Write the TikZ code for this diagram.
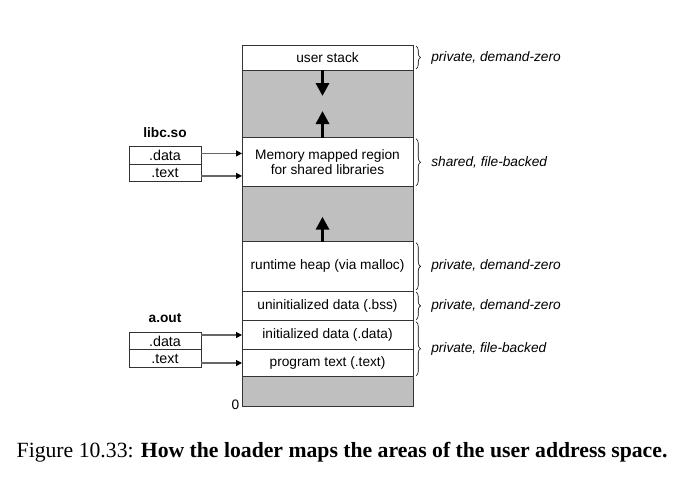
\documentclass[tikz,border=0pt]{standalone}
\usepackage{fontspec}
\setmainfont{Liberation Sans}
\newfontfamily\captionfont{Liberation Serif}
\newcommand\normalgr{\fontsize{13.7}{15.7}\selectfont}
\usetikzlibrary{arrows.meta,positioning,decorations.pathreplacing}

\begin{document}
\begin{tikzpicture}[x={(1pt,0)},y={(0,-1pt)},font=\normalgr,
  region/.style={draw=black!80,line width=.7pt,fill=white,minimum width=171pt,inner sep=0pt,outer sep=0pt,align=center},
  gap/.style={region,fill=black!25},
  libbox/.style={draw=black!80,line width=.7pt,minimum width=72pt,minimum height=17.5pt,inner sep=0pt,outer sep=0pt,font=\fontsize{14.3}{16}\selectfont},
  libarrow/.style={draw=black!60,line width=1.2pt,-{Triangle[length=6pt,width=6pt,color=black]}},
  growarrow/.style={line width=3.2pt,-{Triangle[length=13pt,width=13pt]}},
  klammer/.style={decorate,decoration={brace,amplitude=4.5pt},line width=.6pt}]
  \useasboundingbox (0,0) rectangle (695,480);
  % Adressraum
  \node[region,minimum height=25pt,anchor=north] (stack) at (327.5,45) {user stack};
  \node[gap,minimum height=67.7pt,below=0pt of stack] (gapA) {};
  \node[region,minimum height=49pt,below=0pt of gapA] (shared) {Memory mapped region\\for shared libraries};
  \node[gap,minimum height=55pt,below=0pt of shared] (gapB) {};
  \node[region,minimum height=49.3pt,below=0pt of gapB] (heap) {runtime heap (via malloc)};
  \node[region,minimum height=29.7pt,below=0pt of heap] (bss) {uninitialized data (.bss)};
  \node[region,minimum height=28.6pt,below=0pt of bss] (idata) {initialized data (.data)};
  \node[region,minimum height=27.4pt,below=0pt of idata] (ptext) {program text (.text)};
  \node[gap,minimum height=29.3pt,below=0pt of ptext] (gapC) {};
  \node[anchor=base east,inner sep=0pt,xshift=-2.5pt,yshift=-3pt] (null) at (gapC.south west) {0};
  % Wachstum
  \path ([xshift=-5pt]stack.south) ++(0,26) coordinate (stackend);
  \path ([xshift=-5pt]shared.north) ++(0,-26.7) coordinate (mmapend);
  \path ([xshift=-5pt]heap.north) ++(0,-25) coordinate (heapend);
  \draw[growarrow] ([xshift=-5pt]stack.south) -- (stackend);
  \draw[growarrow] ([xshift=-5pt]shared.north) -- (mmapend);
  \draw[growarrow] ([xshift=-5pt]heap.north) -- (heapend);
  % Bibliotheken
  \node[libbox] (ldata) at (165,155.4) {.data};
  \node[libbox,below=0pt of ldata] (ltext) {.text};
  \node[font=\normalgr\bfseries,inner sep=0pt,above=8.5pt of ldata] (libc) {libc.so};
  \node[libbox] (adata) at (165,341) {.data};
  \node[libbox,below=0pt of adata] (atext) {.text};
  \node[font=\normalgr\bfseries,inner sep=0pt,above=9pt of adata] (aout) {a.out};
  \draw[libarrow] ([yshift=2pt]ldata.east) -- ([yshift=2pt]ldata.east -| shared.west);
  \draw[libarrow] ([yshift=-3pt]ltext.east) -- ([yshift=-3pt]ltext.east -| shared.west);
  \draw[libarrow] (adata.east |- idata.west) -- (idata.west);
  \draw[libarrow] (atext.east |- ptext.west) -- (ptext.west);
  % Klammern
  \foreach \von/\bis/\txt in {stack/stack/{private, demand-zero},shared/shared/{shared, file-backed},
      heap/heap/{private, demand-zero},bss/bss/{private, demand-zero},idata/ptext/{private, file-backed}}
    \draw[klammer] ([xshift=3pt,yshift=-1pt]\von.north east) -- ([xshift=3pt,yshift=1pt]\bis.south east)
      node[midway,right=15pt,inner sep=0pt,font=\normalgr\itshape] {\txt};
  % Unterschrift
  \node[anchor=base west,inner sep=0pt,font=\captionfont\fontsize{21.7}{26}\selectfont] (cap) at (16.5,457)
    {Figure 10.33: \textbf{How the loader maps the areas of the user address space.}};
\end{tikzpicture}
\end{document}
